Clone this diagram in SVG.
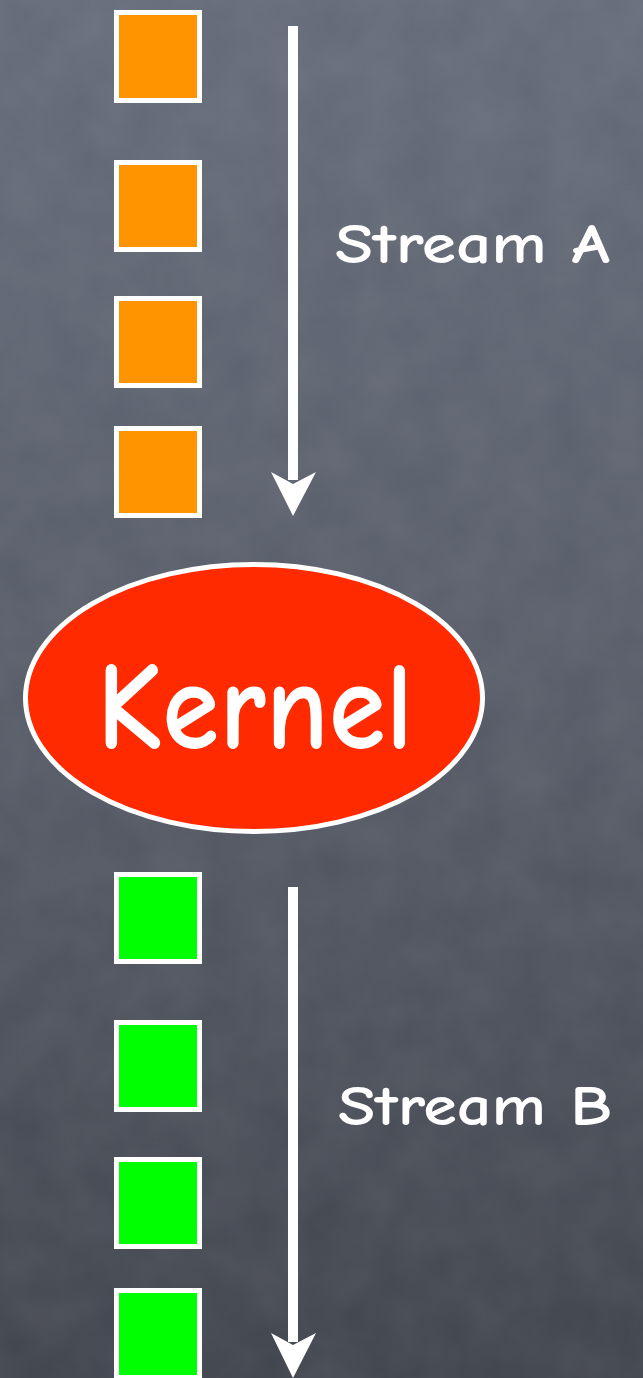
<svg xmlns="http://www.w3.org/2000/svg" width="643" height="1378" viewBox="0 0 643 1378">
  <defs>
    <linearGradient id="bg" x1="0" y1="0" x2="0" y2="1">
      <stop offset="0" stop-color="#646a78"/>
      <stop offset="0.5" stop-color="#565b67"/>
      <stop offset="1" stop-color="#3f434c"/>
    </linearGradient>
    <filter id="grain" x="0" y="0" width="100%" height="100%">
      <feTurbulence type="fractalNoise" baseFrequency="0.02" numOctaves="3" seed="4"/>
      <feColorMatrix type="matrix" values="0 0 0 0 1  0 0 0 0 1  0 0 0 0 1  0 0 0 0.08 0"/>
    </filter>
    <style>
      .sqA { fill: #ff9400; stroke: #ffffff; stroke-width: 5; }
      .sqB { fill: #00ff00; stroke: #ffffff; stroke-width: 5; }
      .lbl { font-family: "Comic Sans MS", "Comic Neue", "DejaVu Sans", "Liberation Sans", sans-serif; fill: #ffffff; font-weight: bold; }
      .arrow { stroke: #ffffff; stroke-width: 10; fill: none; }
      .head { fill: #ffffff; }
    </style>
  </defs>
  <rect x="0" y="0" width="643" height="1378" fill="url(#bg)"/>
  <rect x="0" y="0" width="643" height="1378" filter="url(#grain)"/>

  <g id="connectors">
    <line class="arrow" x1="293" y1="26" x2="293" y2="480"/>
    <path class="head" d="M271 472 L293 484 L316 472 L293 516 Z"/>
    <line class="arrow" x1="293" y1="887" x2="293" y2="1342"/>
    <path class="head" d="M271 1333 L293 1345 L316 1333 L293 1378 Z"/>
  </g>

  <g id="streamA">
    <rect id="a1" class="sqA" x="116.5" y="12.5" width="83" height="88"/>
    <rect id="a2" class="sqA" x="116.5" y="162.5" width="83" height="87"/>
    <rect id="a3" class="sqA" x="116.5" y="298.5" width="83" height="87"/>
    <rect id="a4" class="sqA" x="116.5" y="428.5" width="83" height="87"/>
  </g>
  <g id="labelA">
    <text class="lbl" x="335" y="263" font-size="56" textLength="275" lengthAdjust="spacingAndGlyphs">Stream A</text>
  </g>

  <g id="kernel">
    <ellipse cx="254" cy="698" rx="228.5" ry="133.5" fill="#ff2a00" stroke="#ffffff" stroke-width="5"/>
    <text class="lbl" x="97" y="748" font-size="124" textLength="316" lengthAdjust="spacingAndGlyphs">Kernel</text>
  </g>

  <g id="streamB">
    <rect id="b1" class="sqB" x="116.5" y="874.5" width="83" height="87"/>
    <rect id="b2" class="sqB" x="116.5" y="1022.5" width="83" height="87"/>
    <rect id="b3" class="sqB" x="116.5" y="1159.5" width="83" height="87"/>
    <rect id="b4" class="sqB" x="116.5" y="1290.5" width="83" height="87"/>
  </g>
  <g id="labelB">
    <text class="lbl" x="338" y="1125" font-size="56" textLength="274" lengthAdjust="spacingAndGlyphs">Stream B</text>
  </g>
</svg>
